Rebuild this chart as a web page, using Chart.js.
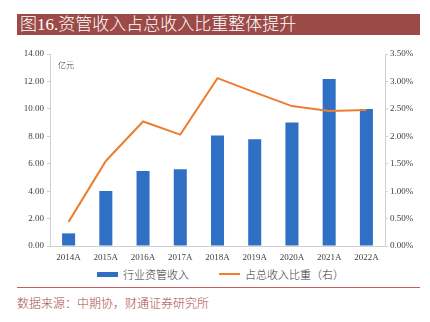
<!DOCTYPE html>
<html>
<head>
<meta charset="utf-8">
<script src="https://cdn.jsdelivr.net/npm/chart.js@4/dist/chart.umd.min.js"></script>
<style>
  body { margin: 0; background: #fff; }
  #page { position: relative; width: 430px; height: 322px; overflow: hidden; background: #fff; }
  #title {
    position: absolute; left: 17px; top: 14px; width: 403px; height: 21px;
    background: #9c4a48; color: #fff;
    font: 300 17px "Liberation Serif", "Noto Sans CJK SC", serif;
    line-height: 21px; padding-left: 3px; box-sizing: border-box; white-space: nowrap;
  }
  #chartBox { position: absolute; left: 0; top: 40px; width: 430px; height: 226px; }
  #unit { position: absolute; left: 58px; top: 59px; font: 300 8px "Noto Sans CJK SC", sans-serif; color: #333; }
  #legend {
    position: absolute; left: 0; top: 267px; width: 430px; height: 14px; padding-left: 11px; box-sizing: border-box;
    display: flex; justify-content: center; align-items: center;
    font: 300 11px "Noto Sans CJK SC", sans-serif; color: #333;
  }
  .item { display: flex; align-items: center; margin: 0 15px; }
  .swatch { width: 21px; margin-right: 5px; }
  #rule { position: absolute; left: 17px; top: 287px; width: 403px; height: 1px; background: #c0605c; }
  #source { position: absolute; left: 17px; top: 294px; font: 300 12px "Noto Sans CJK SC", sans-serif; color: #a84b47; white-space: nowrap; }
</style>
</head>
<body>
<div id="page">
  <div id="title">图16.资管收入占总收入比重整体提升</div>
  <div id="chartBox"><canvas id="chart" width="430" height="226"></canvas></div>
  <div id="unit">亿元</div>
  <div id="legend"></div>
  <div id="rule"></div>
  <div id="source">数据来源：中期协，财通证券研究所</div>
</div>
<script>
const years = ['2014A', '2015A', '2016A', '2017A', '2018A', '2019A', '2020A', '2021A', '2022A'];
const amIncome = [0.92, 4.01, 5.47, 5.6, 8.05, 7.78, 9.0, 12.18, 9.99];   // 亿元
const incomeShare = [0.44, 1.55, 2.27, 2.03, 3.06, 2.8, 2.55, 2.46, 2.48]; // %
const leftTicks = [0, 2, 4, 6, 8, 10, 12, 14];
const rightTicks = [0, 0.5, 1, 1.5, 2, 2.5, 3, 3.5];

const blue = '#2f6fc4';
const orange = '#ed7d31';
const axisGray = '#d0d0d0';
const tickFont = { family: '"Liberation Serif", serif', size: 9 };

const datasets = [
  {
    type: 'bar',
    label: '行业资管收入',
    data: amIncome,
    backgroundColor: blue,
    yAxisID: 'y',
    barPercentage: 0.35,
    categoryPercentage: 1,
    order: 2
  },
  {
    type: 'line',
    label: '占总收入比重（右）',
    data: incomeShare,
    borderColor: orange,
    backgroundColor: orange,
    borderWidth: 2,
    pointRadius: 0,
    tension: 0,
    yAxisID: 'y1',
    order: 1
  }
];

new Chart(document.getElementById('chart'), {
  data: { labels: years, datasets: datasets },
  options: {
    responsive: false,
    animation: false,
    maintainAspectRatio: false,
    layout: { padding: { top: 14, left: 0, right: 0, bottom: 0 } },
    plugins: { legend: { display: false }, tooltip: { enabled: false } },
    scales: {
      x: {
        grid: { display: false, drawTicks: false },
        border: { display: true, color: axisGray },
        ticks: { color: '#404040', font: tickFont, padding: 6, maxRotation: 0, autoSkip: false },
        afterFit: s => { s.height = 20; }
      },
      y: {
        position: 'left',
        min: 0, max: 14,
        afterBuildTicks: s => { s.ticks = leftTicks.map(v => ({ value: v })); },
        grid: { drawOnChartArea: false, color: axisGray, tickLength: 3 },
        border: { display: true, color: axisGray },
        ticks: { color: '#404040', font: tickFont, padding: 3, callback: v => v.toFixed(2) },
        afterFit: s => { s.width = 50; }
      },
      y1: {
        position: 'right',
        min: 0, max: 3.5,
        afterBuildTicks: s => { s.ticks = rightTicks.map(v => ({ value: v })); },
        grid: { drawOnChartArea: false, color: axisGray, tickLength: 3 },
        border: { display: true, color: axisGray },
        ticks: { color: '#404040', font: tickFont, padding: 2, callback: v => v.toFixed(2) + '%' },
        afterFit: s => { s.width = 45; }
      }
    }
  }
});

// legend below the chart, built from the datasets
const legend = document.getElementById('legend');
datasets.forEach(ds => {
  const item = document.createElement('div');
  item.className = 'item';
  const sw = document.createElement('span');
  sw.className = 'swatch';
  if (ds.type === 'bar') {
    sw.style.height = '5px';
    sw.style.background = ds.backgroundColor;
  } else {
    sw.style.height = '2px';
    sw.style.background = ds.borderColor;
  }
  const txt = document.createElement('span');
  txt.textContent = ds.label;
  item.appendChild(sw);
  item.appendChild(txt);
  legend.appendChild(item);
});
</script>
</body>
</html>
